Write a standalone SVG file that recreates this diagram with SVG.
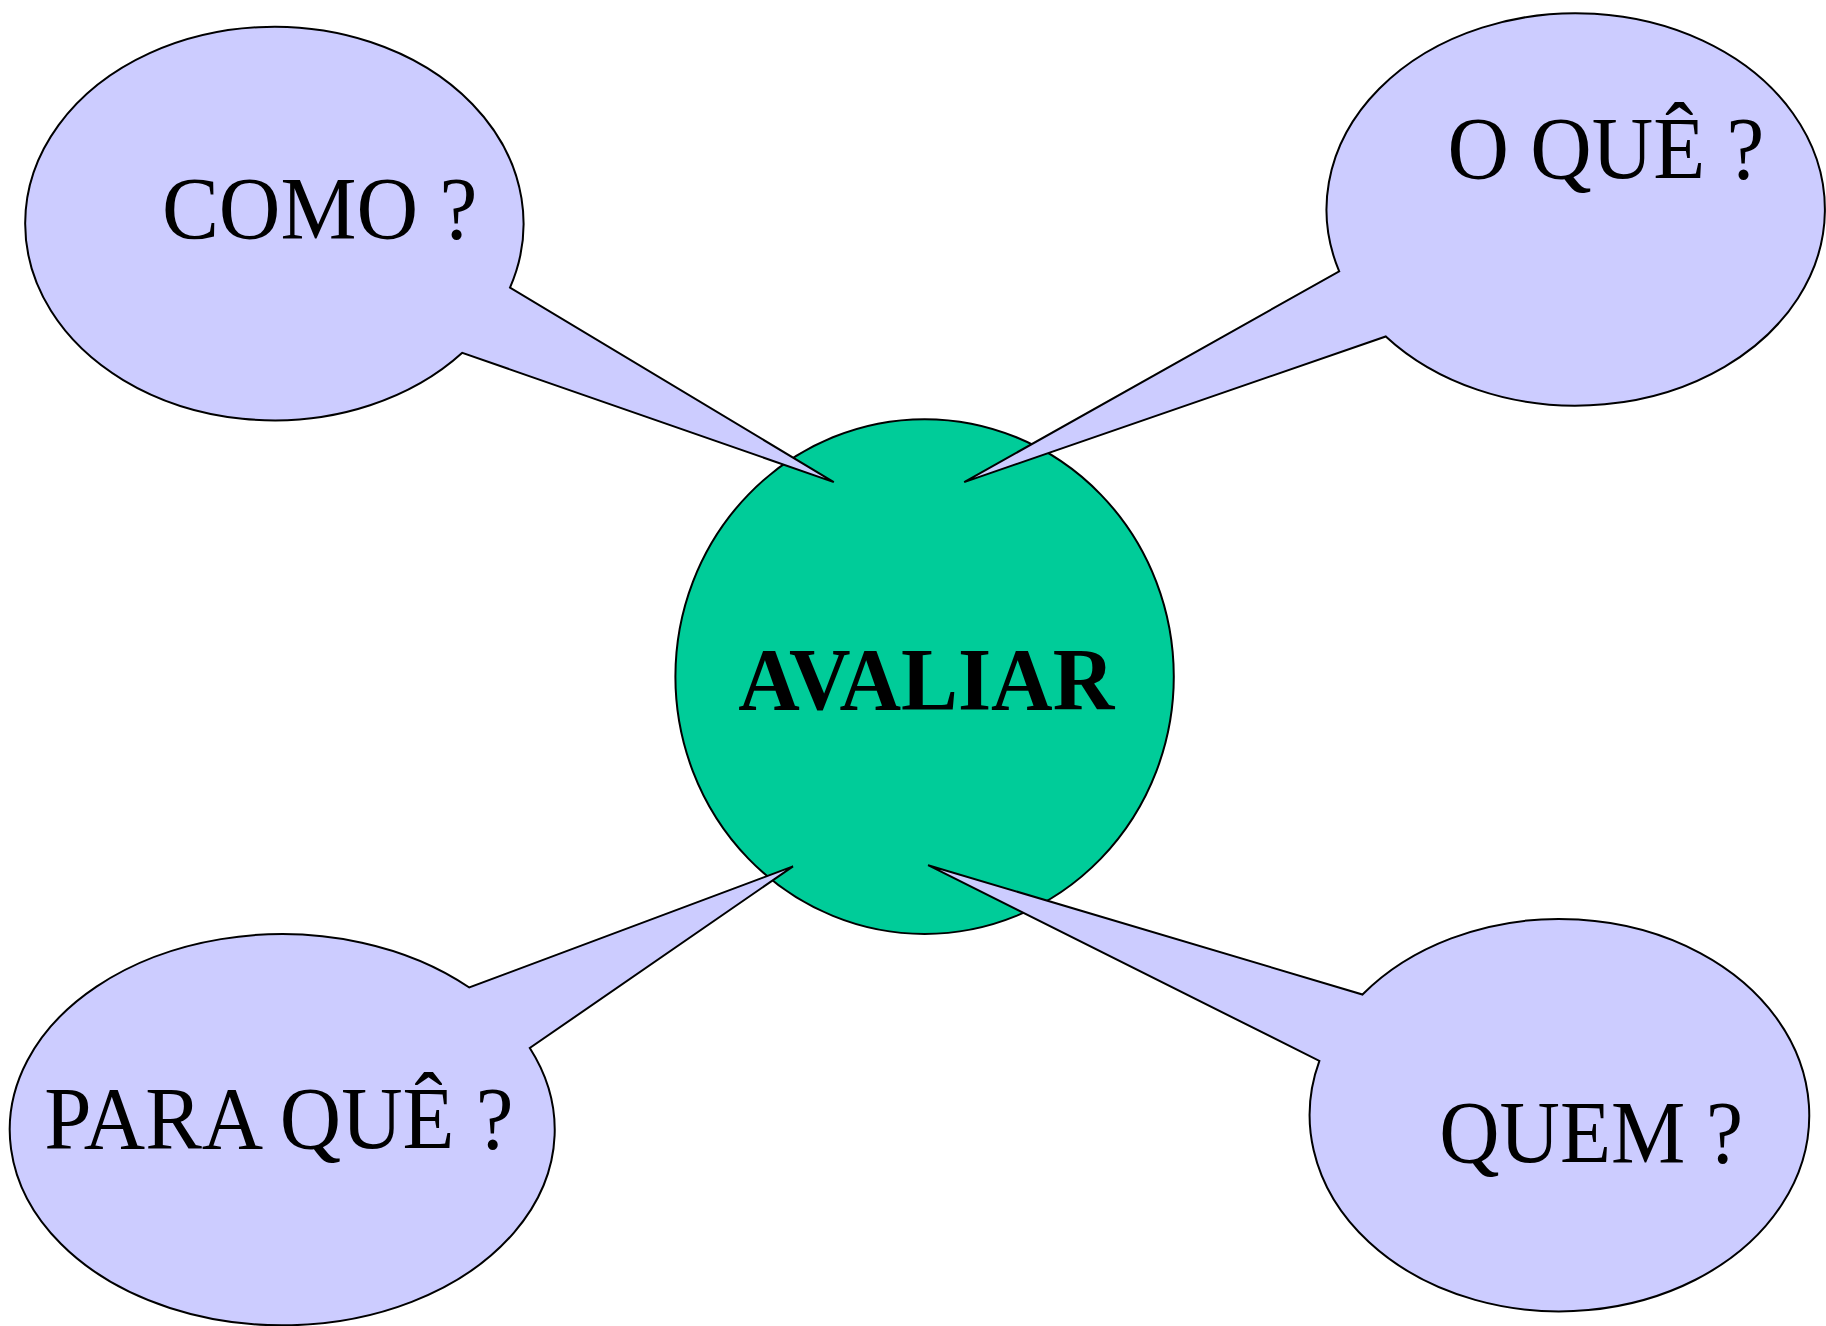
<svg xmlns="http://www.w3.org/2000/svg" width="1826" height="1326" viewBox="0 0 1826 1326">
<style>
.bubble{fill:#CCCCFF;stroke:#000;stroke-width:2;stroke-linejoin:miter}
.center{fill:#00CC99;stroke:#000;stroke-width:2}
.lbl{font-family:"Liberation Serif","Times New Roman",serif;font-size:88px;fill:#000}
.bold{font-weight:bold}
</style>
<rect width="1826" height="1326" fill="#fff"/>
<g id="avaliar">
<ellipse class="center" cx="924.6" cy="676.6" rx="249.2" ry="257.4"/>
<text class="lbl bold" x="738.3" y="709.2" textLength="376" lengthAdjust="spacingAndGlyphs">AVALIAR</text>
</g>
<g id="connectors">
</g>
<g id="como">
<path class="bubble" d="M510,287.6 A249.2,196.8 0 1 0 462.3,352.8 L833.8,482.1 Z"/>
<text class="lbl" x="161.9" y="237.6" textLength="315.5" lengthAdjust="spacingAndGlyphs">COMO ?</text>
</g>
<g id="oque">
<path class="bubble" d="M1339.2,271.3 A249.2,196.2 0 1 1 1385.8,336.5 L964.2,482.1 Z"/>
<text class="lbl" x="1447.5" y="178.2" textLength="316.7" lengthAdjust="spacingAndGlyphs">O QUÊ ?</text>
</g>
<g id="paraque">
<path class="bubble" d="M469.3,987.5 A272.5,195.6 0 1 0 529.8,1048 L793,866.4 Z"/>
<text class="lbl" x="44.3" y="1148.2" textLength="469.2" lengthAdjust="spacingAndGlyphs">PARA QUÊ ?</text>
</g>
<g id="quem">
<path class="bubble" d="M1362.5,994.5 A249.8,196.2 0 1 1 1319.4,1060.9 L928.1,865.2 Z"/>
<text class="lbl" x="1439.3" y="1162.2" textLength="303.9" lengthAdjust="spacingAndGlyphs">QUEM ?</text>
</g>
</svg>
